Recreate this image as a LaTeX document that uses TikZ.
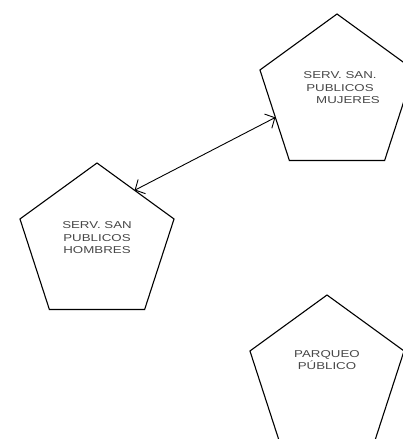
\documentclass[tikz,border=0pt]{standalone}
\usepackage{fontspec}
\newfontfamily\lblfont[FakeStretch=1.33]{Liberation Sans}
\usetikzlibrary{shapes.geometric,arrows.meta}
\begin{document}
\begin{tikzpicture}[x=1pt,y=-1pt,
  booth/.style={draw=black,line width=1.1pt,regular polygon,regular polygon sides=5,
    minimum size=162pt,inner sep=0pt,outer sep=0pt},
  lbl/.style={text=black!72,align=center,inner sep=0pt,
    font=\lblfont\fontsize{10}{12.5}\selectfont},
  link/.style={draw=black,line width=0.9pt,
    {Straight Barb[width=16pt,length=7.5pt]}-{Straight Barb[width=16pt,length=7.5pt]}}]
  \useasboundingbox (0,0) rectangle (403,439);
  % booths
  \node[booth] (muj) at (337,95) {};
  \node[booth] (hom) at (97,244) {};
  \node[booth] (par) at (327,376) {};
  % labels
  \node[lbl] (tmuj) at (340,88) {SERV. SAN.\\PUBLICOS\\\hspace*{16pt}MUJERES};
  \node[lbl] (thom) at (97,238) {SERV. SAN\\PUBLICOS\\HOMBRES};
  \node[lbl] (tpar) at (327,360) {PARQUEO\\PÚBLICO};
  % connection between the two service booths
  \draw[link] (hom.55) -- (muj.200);
\end{tikzpicture}
\end{document}
